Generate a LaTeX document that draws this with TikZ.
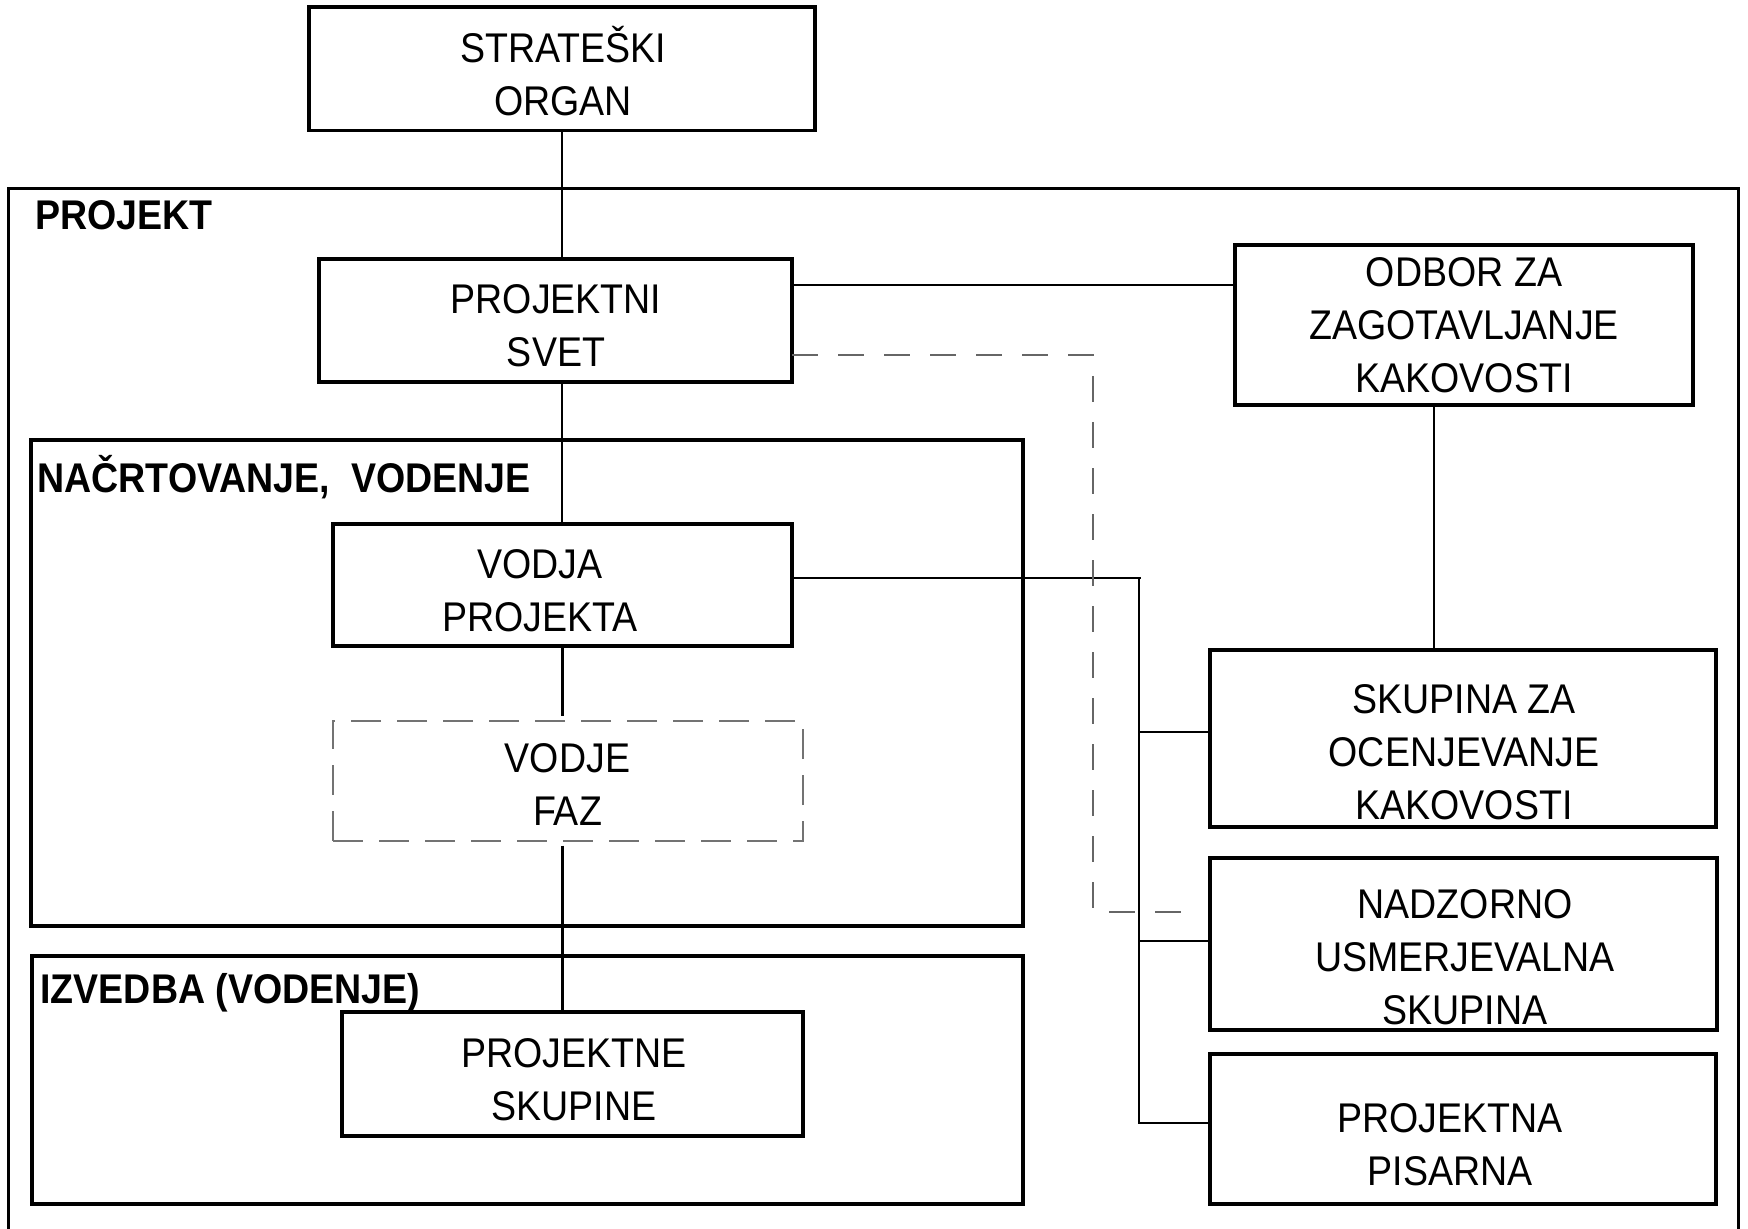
\documentclass[tikz,border=0pt]{standalone}
\usepackage{fontspec}
\setmainfont{Liberation Sans}[FakeStretch=0.905]
\usetikzlibrary{calc}
\newcommand\mlines[1]{\begin{tabular}[t]{@{}c@{}}#1\end{tabular}}
\begin{document}
\begin{tikzpicture}[x=0.5pt,y=-0.5pt,
  every node/.style={font=\fontsize{20.75pt}{26.5pt}\selectfont},
  box/.style={draw, line width=1.65pt, rectangle, inner sep=0pt},
  dbox/.style={draw=black!55, line width=0.7pt, dash pattern=on 15pt off 8pt, rectangle, inner sep=0pt},
  frame/.style={draw, line width=1.6pt, rectangle, inner sep=0pt},
  txt/.style={anchor=base, inner sep=0pt},
  lbl/.style={anchor=base west, inner sep=0pt, font=\fontsize{20.75pt}{26.5pt}\selectfont\bfseries},
  conn/.style={line width=1.4pt},
  dconn/.style={draw=black!60, line width=0.7pt, dash pattern=on 13pt off 10pt}]
\useasboundingbox (0,0) rectangle (1748,1229);
% outer PROJEKT frame (bottom edge outside the picture)
\draw[line width=1.5pt] (8,1229) -- (8,189) -- (1738,189) -- (1738,1229);
\node[lbl] (lproj) at (35,230) {PROJEKT};
% containers
\node[frame, minimum width=496pt, minimum height=243pt] (nacrt) at (527,683) {};
\node[lbl] (lnacrt) at (37,492) {NAČRTOVANJE,\ \ VODENJE};
\node[frame, minimum width=495.5pt, minimum height=124pt] (izv) at (527.5,1080) {};
% boxes
\node[box, minimum width=253pt, minimum height=61.75pt] (so) at (562,68.75) {};
\node[box, minimum width=236.5pt, minimum height=61.5pt] (svet) at (555.5,320.5) {};
\node[box, minimum width=229pt, minimum height=80pt] (odbor) at (1464,325) {};
\node[box, minimum width=229.5pt, minimum height=61pt] (vodja) at (562.5,585) {};
\node[dbox, minimum width=235pt, minimum height=60pt] (faz) at (568,781) {};
\node[box, minimum width=230.5pt, minimum height=62pt] (skup) at (572.5,1074) {};
\node[box, minimum width=253pt, minimum height=88.5pt] (ocen) at (1463,738.5) {};
\node[box, minimum width=253.5pt, minimum height=86pt] (nad) at (1463.5,944) {};
\node[box, minimum width=253pt, minimum height=75pt] (pis) at (1463,1129) {};
\node[lbl] (lizv) at (40,1003) {IZVEDBA (VODENJE)};
% texts
\node[txt] (tso) at (563,63) {\mlines{STRATEŠKI\\ORGAN}};
\node[txt] (tsvet) at (556,314) {\mlines{PROJEKTNI\\SVET}};
\node[txt] (todbor) at (1464,287) {\mlines{ODBOR ZA\\ZAGOTAVLJANJE\\KAKOVOSTI}};
\node[txt] (tvodja) at (540,578) {\mlines{VODJA\\PROJEKTA}};
\node[txt] (tfaz) at (567.5,772) {\mlines{VODJE\\FAZ}};
\node[txt] (tskup) at (574,1067) {\mlines{PROJEKTNE\\SKUPINE}};
\node[txt] (tocen) at (1464,713) {\mlines{SKUPINA ZA\\OCENJEVANJE\\KAKOVOSTI}};
\node[txt] (tnad) at (1465,918) {\mlines{NADZORNO\\USMERJEVALNA\\SKUPINA}};
\node[txt] (tpis) at (1450,1132) {\mlines{PROJEKTNA\\PISARNA}};
% connectors
\draw[conn] (so.south) -- (so.south |- svet.north);
\draw[conn] (so.south |- svet.south) -- (so.south |- vodja.north);
\draw[conn] (vodja.south) -- ([yshift=2pt]faz.north -| vodja.south);
\draw[conn] ([yshift=-2pt]faz.south -| vodja.south) -- (vodja.south |- skup.north);
\coordinate (a1) at (792,285);
\draw[conn] (a1) -- (a1 -| odbor.west);
\coordinate (b1) at (1434,405);
\draw[conn] (b1) -- (b1 |- ocen.north);
\coordinate (v1) at (792,578);
\coordinate (bus) at (1139,578);
\coordinate (busend) at (1139,1124);
\draw[conn] (v1) -- (1141,578);
\draw[conn] (bus) -- (busend);
\coordinate (br1) at (1139,732);
\coordinate (br2) at (1139,941);
\coordinate (br3) at (1139,1123);
\draw[conn] (br1) -- (br1 -| ocen.west);
\draw[conn] (br2) -- (br2 -| nad.west);
\draw[conn] (br3) -- (br3 -| pis.west);
% dashed connector
\coordinate (d0) at (792,355);
\coordinate (d3) at (1197,912);
\draw[dconn] (d0) -- (1093,355) -- (1093,912) -- (d3);
\end{tikzpicture}
\end{document}
